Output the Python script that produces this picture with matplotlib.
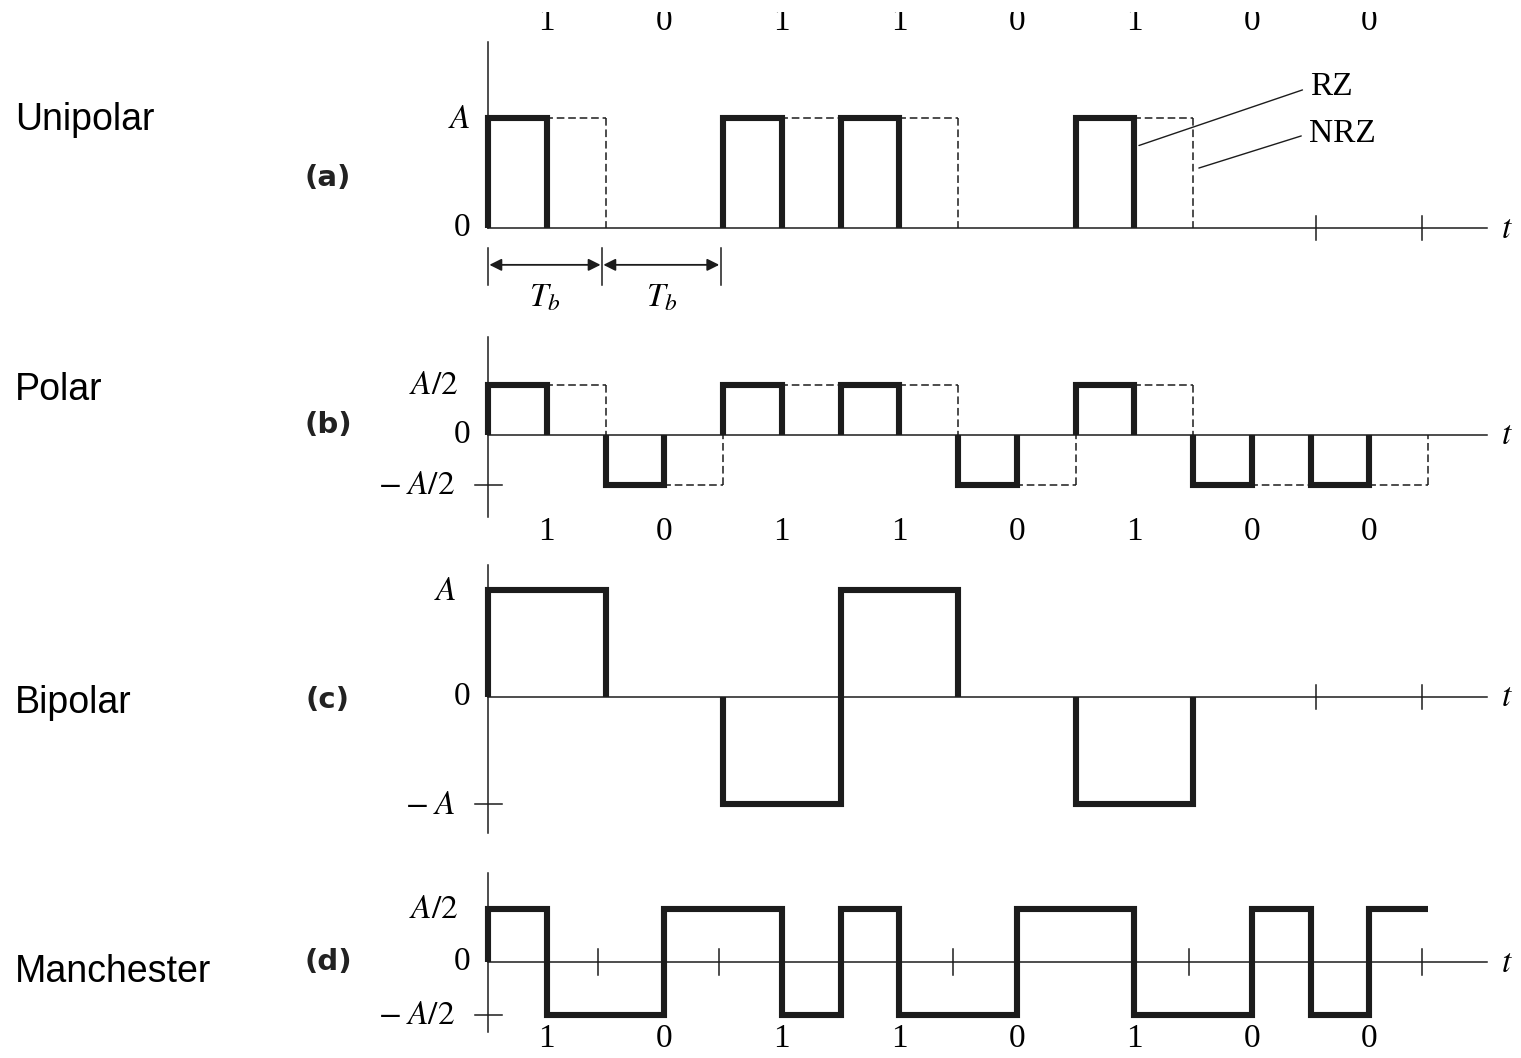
import matplotlib.pyplot as plt

# bit stream and the levels of each line code (in units of A)
bits = ['1', '0', '1', '1', '0', '1', '0', '0']
unipolar = [1, 0, 1, 1, 0, 1, 0, 0]
polar = [0.5, -0.5, 0.5, 0.5, -0.5, 0.5, -0.5, -0.5]
bipolar = [1, 0, -1, 1, 0, -1, 0, 0]
manch_first = [0.5, -0.5, 0.5, 0.5, -0.5, 0.5, -0.5, -0.5]
manch_second = [-0.5, 0.5, -0.5, -0.5, 0.5, -0.5, 0.5, 0.5]

row_names = ['Unipolar', 'Polar', 'Bipolar', 'Manchester']
tags = ['(a)', '(b)', '(c)', '(d)']
t_ticks_ac = [7.05, 7.95]
t_ticks_d = [0.94, 1.97, 3.96, 5.97, 7.95]

plt.rcParams['mathtext.fontset'] = 'stix'
W, H = 1521, 1058
fig = plt.figure(figsize=(W / 100, H / 100), dpi=100)

X0, TB = 488, 117.5
K = '#1c1c1c'
THICK = 4.4
THIN = 1.1
SERIF = 'Liberation Serif'
FS = 24


def make_panel(top, bot, zero, unit):
    ax = fig.add_axes([0, 1 - bot / H, 1, (bot - top) / H])
    ax.set_xlim(-X0 / TB, (W - X0) / TB)
    ax.set_ylim((zero - bot) / unit, (zero - top) / unit)
    ax.axis('off')
    return ax


def axes_lines(ax, ytop, ybot):
    ax.plot([0, 8.5], [0, 0], color=K, lw=THIN)
    ax.plot([0, 0], [ybot, ytop], color=K, lw=THIN)
    ax.text(8.62, 0, '$t$', fontsize=FS, va='center', ha='left')


def time_ticks(ax, xs, h):
    for x in xs:
        ax.plot([x, x], [-h, h], color=K, lw=THIN)


def level_tick(ax, y):
    ax.plot([-0.11, 0.12], [y, y], color=K, lw=THIN)


def nrz_dashed(ax, levels):
    # dashed NRZ outline, leaving out the stretches lying on the time axis
    n = len(levels)
    for i, v in enumerate(levels):
        if v != 0:
            ax.plot([i, i + 1], [v, v], color=K, lw=THIN, dashes=(5, 2.5))
    for j in range(n + 1):
        prev = levels[j - 1] if j > 0 else 0
        nxt = levels[j] if j < n else 0
        if prev != nxt:
            ax.plot([j, j], [prev, nxt], color=K, lw=THIN, dashes=(5, 2.5))


def pulses(ax, levels, width):
    for i, v in enumerate(levels):
        if v != 0:
            ax.plot([i, i, i + width, i + width], [0, v, v, 0], color=K, lw=THICK,
                    solid_joinstyle='miter', solid_capstyle='butt')


def bit_row(ax, y, va='center', clip=False):
    for i, b in enumerate(bits):
        ax.text(i + 0.5, y, b, fontsize=FS, family=SERIF, ha='center', va=va,
                clip_on=clip)


# (a) unipolar
ax = make_panel(12, 320, 228, 110)
axes_lines(ax, 1.69, 0)
time_ticks(ax, t_ticks_ac, 0.11)
nrz_dashed(ax, unipolar)
pulses(ax, unipolar, 0.5)
bit_row(ax, 1.80, va='baseline', clip=True)
ax.text(-0.15, 1, '$A$', fontsize=FS, ha='right', va='center')
ax.text(-0.15, 0, '0', fontsize=FS, family=SERIF, ha='right', va='center')
for x0, x1 in [(0, 0.97), (0.97, 1.98)]:
    ax.annotate('', xy=(x1, -0.335), xytext=(x0, -0.335),
                arrowprops=dict(arrowstyle='<|-|>', color=K, lw=1.3,
                                mutation_scale=18, shrinkA=1, shrinkB=1))
    ax.text((x0 + x1) / 2, -0.63, '$T_b$', fontsize=FS, ha='center', va='center')
for x in [0, 0.97, 1.98]:
    ax.plot([x, x], [-0.18, -0.52], color=K, lw=THIN)
ax.annotate('RZ', xy=(5.54, 0.75), xytext=(7.0, 1.28), fontsize=FS, family=SERIF,
            va='center', ha='left',
            arrowprops=dict(arrowstyle='-', color=K, lw=1.0, shrinkA=4, shrinkB=0,
                            relpos=(0, 0.5)))
ax.annotate('NRZ', xy=(6.05, 0.545), xytext=(6.99, 0.86), fontsize=FS, family=SERIF,
            va='center', ha='left',
            arrowprops=dict(arrowstyle='-', color=K, lw=1.0, shrinkA=4, shrinkB=0,
                            relpos=(0, 0.5)))

# (b) polar
ax = make_panel(320, 550, 435, 100)
axes_lines(ax, 0.98, -0.82)
level_tick(ax, -0.5)
nrz_dashed(ax, polar)
pulses(ax, polar, 0.5)
bit_row(ax, -0.97)
ax.text(-0.25, 0.5, '$A/2$', fontsize=FS, ha='right', va='center')
ax.text(-0.15, 0, '0', fontsize=FS, family=SERIF, ha='right', va='center')
ax.text(-0.28, -0.5, r'$-\;A/2$', fontsize=FS, ha='right', va='center')

# (c) bipolar
ax = make_panel(550, 850, 697, 107)
axes_lines(ax, 1.23, -1.27)
time_ticks(ax, t_ticks_ac, 0.11)
level_tick(ax, -1)
pulses(ax, bipolar, 1.0)
ax.text(-0.27, 1, '$A$', fontsize=FS, ha='right', va='center')
ax.text(-0.15, 0, '0', fontsize=FS, family=SERIF, ha='right', va='center')
ax.text(-0.28, -1, r'$-\;A$', fontsize=FS, ha='right', va='center')

# (d) manchester
ax = make_panel(850, 1058, 962, 106)
axes_lines(ax, 0.84, -0.66)
time_ticks(ax, t_ticks_d, 0.12)
level_tick(ax, -0.5)
xs, ys = [0], [0]
for i, (f, s) in enumerate(zip(manch_first, manch_second)):
    xs += [i, i + 0.5, i + 0.5, i + 1]
    ys += [f, f, s, s]
ax.plot(xs, ys, color=K, lw=THICK, solid_joinstyle='miter', solid_capstyle='butt')
bit_row(ax, -0.72)
ax.text(-0.25, 0.5, '$A/2$', fontsize=FS, ha='right', va='center')
ax.text(-0.15, 0, '0', fontsize=FS, family=SERIF, ha='right', va='center')
ax.text(-0.28, -0.5, r'$-\;A/2$', fontsize=FS, ha='right', va='center')

# row names and panel tags
for name, y in zip(row_names, [120, 390, 703, 972]):
    fig.text(15 / W, 1 - y / H, name, fontsize=27, family='Liberation Sans',
             ha='left', va='center')
for tag, y in zip(tags, [178, 425, 700, 962]):
    fig.text(328 / W, 1 - y / H, tag, fontsize=21, family='DejaVu Sans',
             fontweight='bold', ha='center', va='center', color='#222222')

fig.savefig('out.png', dpi=100, facecolor='white')
